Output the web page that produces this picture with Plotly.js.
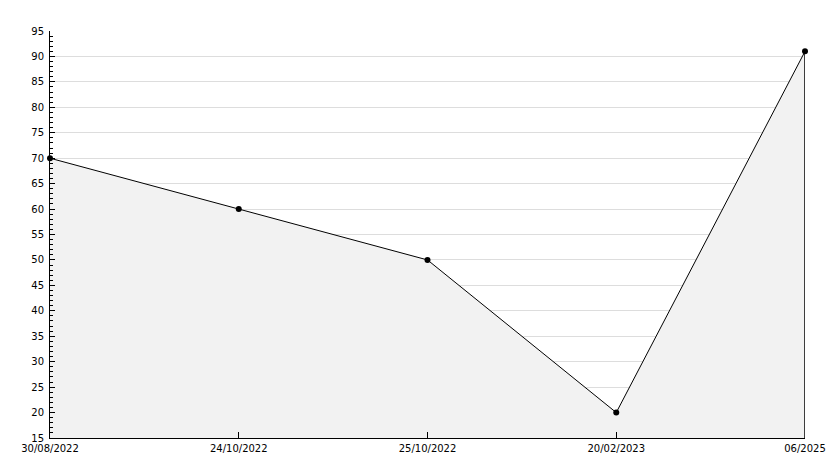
<!DOCTYPE html>
<html>
<head>
<meta charset="utf-8">
<script src="https://cdn.plot.ly/plotly-3.0.1.min.js"></script>
<style>html,body{margin:0;padding:0;background:#fff;}#chart{width:834px;height:468px;}</style>
</head>
<body>
<div id="chart"></div>
<script>
var categories = ["30/08/2022", "24/10/2022", "25/10/2022", "20/02/2023", "06/2025"];
var values = [70, 60, 50, 20, 91];
var yMin = 15, yMax = 95;

var lastCat = categories[categories.length - 1];
var lastVal = values[values.length - 1];

var traces = [
  {
    x: categories, y: values, type: "scatter", mode: "lines+markers",
    fill: "tozeroy", fillcolor: "#f2f2f2",
    line: {color: "#000", width: 1},
    marker: {color: "#000", size: 6, symbol: "circle"},
    cliponaxis: false, hoverinfo: "skip"
  },
  {
    x: [lastCat, lastCat], y: [yMin, lastVal], type: "scatter", mode: "lines",
    line: {color: "#000", width: 1.5}, cliponaxis: false, hoverinfo: "skip"
  }
];

var layout = {
  width: 834, height: 468,
  margin: {l: 50, r: 29, t: 31, b: 30, pad: 0},
  paper_bgcolor: "#fff", plot_bgcolor: "#fff",
  showlegend: false,
  font: {family: "DejaVu Sans, sans-serif", size: 10, color: "#000"},
  xaxis: {
    type: "category", range: [0, categories.length - 1],
    showgrid: false, zeroline: false,
    showline: true, linecolor: "#000", linewidth: 1,
    ticks: "inside", ticklen: 6, tickcolor: "#000",
    ticklabelstandoff: 1,
    tickfont: {family: "DejaVu Sans, sans-serif", size: 10, color: "#000"}
  },
  yaxis: {
    range: [yMin, yMax], dtick: 5, tick0: 15,
    showgrid: true, gridcolor: "#dddddd", gridwidth: 1, zeroline: false,
    showline: true, linecolor: "#000", linewidth: 1,
    ticks: "inside", ticklen: 5, tickcolor: "#000",
    ticklabelstandoff: 3,
    minor: {dtick: 1, ticks: "inside", ticklen: 3, tickcolor: "#000", showgrid: false},
    tickfont: {family: "DejaVu Sans, sans-serif", size: 10, color: "#000"}
  }
};

Plotly.newPlot("chart", traces, layout, {staticPlot: true});
</script>
</body>
</html>
